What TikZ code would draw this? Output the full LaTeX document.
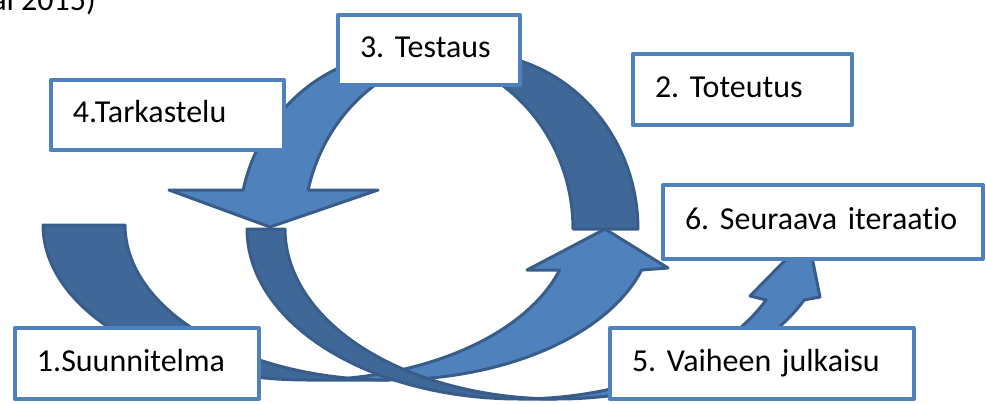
\documentclass[tikz,border=0pt]{standalone}
\usepackage{fontspec}
\setmainfont{Carlito}[Ligatures=NoCommon]
\frenchspacing

\definecolor{boxblue}{RGB}{79,129,189}
\definecolor{bandlight}{RGB}{79,129,189}
\definecolor{banddark}{RGB}{63,103,151}
\definecolor{bandline}{RGB}{56,93,138}

\begin{document}
\begin{tikzpicture}[x=0.02cm, y=-0.02cm, line join=round,
  phase/.style={draw=boxblue, line width=0.085cm, fill=white, anchor=north west, outer sep=0pt,
    inner xsep=0.44cm, inner ysep=0pt, align=left, text height=11.7pt, text depth=3.1pt,
    font=\fontsize{18.2}{22}\selectfont},
  front/.style={fill=bandlight, draw=bandline, line width=0.06cm},
  back/.style={fill=banddark, draw=bandline, line width=0.06cm}]

\useasboundingbox (0,0) rectangle (986,403);
\clip (0,0) rectangle (986,403);

% cut-off citation at the top
\node[anchor=base west, inner sep=0pt, font=\fontsize{18.2}{22}\selectfont] (cite) at (-9,10) {al 2015)};

% arrow 1 -> 2
\path[back] plot[domain=180:90, samples=40] ({307+264*cos(\x)}, {225+155*sin(\x)})
  -- plot[domain=90:180, samples=40] ({389+264*cos(\x)}, {225+155*sin(\x)}) -- cycle;
\path[front] plot[domain=81.07:16.88, samples=40] ({307+264*cos(\x)}, {225+155*sin(\x)})
  -- (527,270) -- (605,229) -- (668,268)
  -- plot[domain=16.88:98.93, samples=40] ({389+264*cos(\x)}, {225+155*sin(\x)}) -- cycle;

% arrow 4 -> 5
\path[back] plot[domain=180:90, samples=40] ({519+272*cos(\x)}, {229+170*sin(\x)})
  -- plot[domain=90:180, samples=40] ({557+272*cos(\x)}, {229+170*sin(\x)}) -- cycle;
\path[front] plot[domain=86:24.68, samples=40] ({519+272*cos(\x)}, {229+170*sin(\x)})
  -- (750,296) -- (808,237) -- (820,297)
  -- plot[domain=24.68:94, samples=40] ({557+272*cos(\x)}, {229+170*sin(\x)}) -- cycle;

% arrow 2 -> 3 -> 4
\path[back] plot[domain=258.78:360, samples=40] ({471+167*cos(\x)}, {229+176*sin(\x)})
  -- plot[domain=360:281.22, samples=40] ({406+167*cos(\x)}, {229+176*sin(\x)}) -- cycle;
\path[front] plot[domain=281.22:192.8, samples=40] ({406+167*cos(\x)}, {229+176*sin(\x)})
  -- (169,190) -- (270,227) -- (378,190)
  -- plot[domain=192.8:258.78, samples=40] ({471+167*cos(\x)}, {229+176*sin(\x)}) -- cycle;

% phase boxes
\node[phase, text width=4.00cm, minimum height=1.42cm] (plan) at (15,328) {1.Suunnitelma};
\node[phase, text width=3.50cm, minimum height=1.42cm] (impl) at (633,54) {2. Toteutus};
\node[phase, text width=2.76cm, minimum height=1.40cm] (test) at (338,15) {3. Testaus};
\node[phase, text width=3.78cm, minimum height=1.40cm] (review) at (51,80) {4.Tarkastelu};
\node[phase, text width=5.20cm, minimum height=1.42cm] (release) at (610,328) {5. Vaiheen julkaisu};
\node[phase, text width=5.52cm, minimum height=1.48cm] (next) at (663,185) {6. Seuraava iteraatio};

\end{tikzpicture}
\end{document}
